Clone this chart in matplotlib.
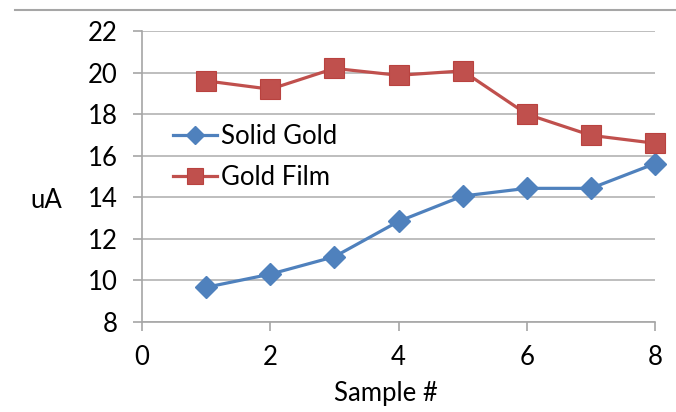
import matplotlib
matplotlib.use("Agg")
import matplotlib.pyplot as plt
from matplotlib.lines import Line2D

samples = [1, 2, 3, 4, 5, 6, 7, 8]
solid_gold = [9.67, 10.3, 11.14, 12.84, 14.06, 14.43, 14.43, 15.62]
gold_film = [19.6, 19.2, 20.2, 19.87, 20.08, 18.0, 16.98, 16.6]
xticks = [0, 2, 4, 6, 8]
yticks = [8, 10, 12, 14, 16, 18, 20, 22]

plt.rcParams['font.family'] = ['Lato', 'DejaVu Sans']
FS = 18.5

W, H = 676, 412
fig = plt.figure(figsize=(W / 100, H / 100), dpi=100)
ax = fig.add_axes([142 / W, 1 - 322 / H, (655 - 142) / W, (322 - 31) / H])

blue = '#4F81BD'
red = '#C0504D'
ax.plot(samples, solid_gold, color=blue, lw=2.3, marker='D', ms=11,
        mfc=blue, mec=blue, label='Solid Gold', zorder=3, clip_on=False)
ax.plot(samples, gold_film, color=red, lw=2.3, marker='s', ms=15,
        mfc=red, mec='#B9423F', mew=0.8, label='Gold Film', zorder=3, clip_on=False)

ax.set_xlim(0, 8)
ax.set_ylim(8, 22)
ax.set_xticks(xticks)
ax.set_yticks(yticks)
ax.yaxis.grid(True, color='#b3b3b3', lw=1.2)
ax.set_axisbelow(True)
for s in ['top', 'right']:
    ax.spines[s].set_visible(False)
for s in ['left', 'bottom']:
    ax.spines[s].set_color('#a6a6a6')
    ax.spines[s].set_linewidth(1.2)
ax.tick_params(axis='both', colors='#a6a6a6', labelcolor='black', labelsize=FS,
               length=6.5, width=1.2, direction='out')
ax.tick_params(axis='x', pad=10)
ax.tick_params(axis='y', pad=11)

fig.text(46 / W, 1 - 200 / H, 'uA', fontsize=FS, ha='center', va='center')
fig.text(386 / W, 1 - 393 / H, 'Sample #', fontsize=FS, ha='center', va='center')

ax.legend(loc='center left', bbox_to_anchor=((173 - 142) / (655 - 142), (322 - 157) / (322 - 31)),
          frameon=False, fontsize=FS, handlelength=1.7, handletextpad=0.15,
          labelspacing=0.65, borderaxespad=0, borderpad=0, markerscale=0.8)

fig.add_artist(Line2D([15 / W, 1], [1 - 10 / H, 1 - 10 / H], color='#a6a6a6', lw=1.5))

fig.savefig('out.png', dpi=100)
